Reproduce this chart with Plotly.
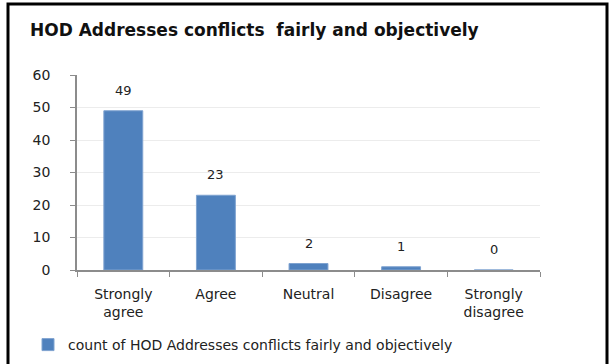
import plotly.graph_objects as go

categories = ["Strongly<br>agree", "Agree", "Neutral", "Disagree", "Strongly<br>disagree"]
counts = [49, 23, 2, 1, 0]
series_name = "count of HOD Addresses conflicts fairly and objectively"
title_text = "HOD Addresses conflicts  fairly and objectively"

W, H = 611, 364
L, R, T, B = 77, 71, 75, 94
pw, ph = W - L - R, H - T - B
FONT = "DejaVu Sans"


def px_x(x):
    return (x - L) / pw


def px_y(y):
    return (H - B - y) / ph


fig = go.Figure()
fig.add_trace(go.Bar(
    x=categories, y=counts, name=series_name,
    marker_color="#4f81bd", marker_line_color="#7fa3d0", marker_line_width=1,
))

# data labels above each bar
for c, v in zip(categories, counts):
    fig.add_annotation(x=c, y=v, text=str(v), showarrow=False,
                       yanchor="bottom", yshift=11,
                       font=dict(family=FONT, size=13, color="#222"))

fig.update_layout(
    width=W, height=H,
    margin=dict(l=L, r=R, t=T, b=B, autoexpand=False),
    paper_bgcolor="white", plot_bgcolor="white",
    bargap=0.58,
    showlegend=True,
    title=dict(text="<b>" + title_text + "</b>", x=30 / W, xanchor="left",
               y=1 - 30 / H, yanchor="middle",
               font=dict(family=FONT, size=17, color="#111")),
    legend=dict(orientation="h", x=px_x(28), xanchor="left",
                y=px_y(345), yanchor="middle",
                font=dict(family=FONT, size=14, color="#222"),
                itemwidth=30),
    shapes=[dict(type="rect", xref="paper", yref="paper",
                 x0=px_x(8), x1=px_x(607), y0=px_y(372), y1=px_y(4),
                 line=dict(color="black", width=3), layer="below")],
)
fig.update_xaxes(showline=True, linecolor="#8c8c8c", linewidth=1.5,
                 ticks="outside", tickson="boundaries", ticklen=5, tickcolor="#8c8c8c",
                 ticklabelstandoff=10,
                 tickfont=dict(family=FONT, size=14, color="#222"))
fig.update_yaxes(range=[0, 60], dtick=10, showline=True, linecolor="#8c8c8c", linewidth=1.5,
                 ticks="outside", ticklen=5, tickcolor="#8c8c8c",
                 showgrid=True, gridcolor="#ececec", zeroline=False,
                 ticklabelstandoff=17,
                 tickfont=dict(family=FONT, size=14, color="#222"))

fig.write_html("out.html", config={"displayModeBar": False},
               post_script="document.body.style.margin='0';")
